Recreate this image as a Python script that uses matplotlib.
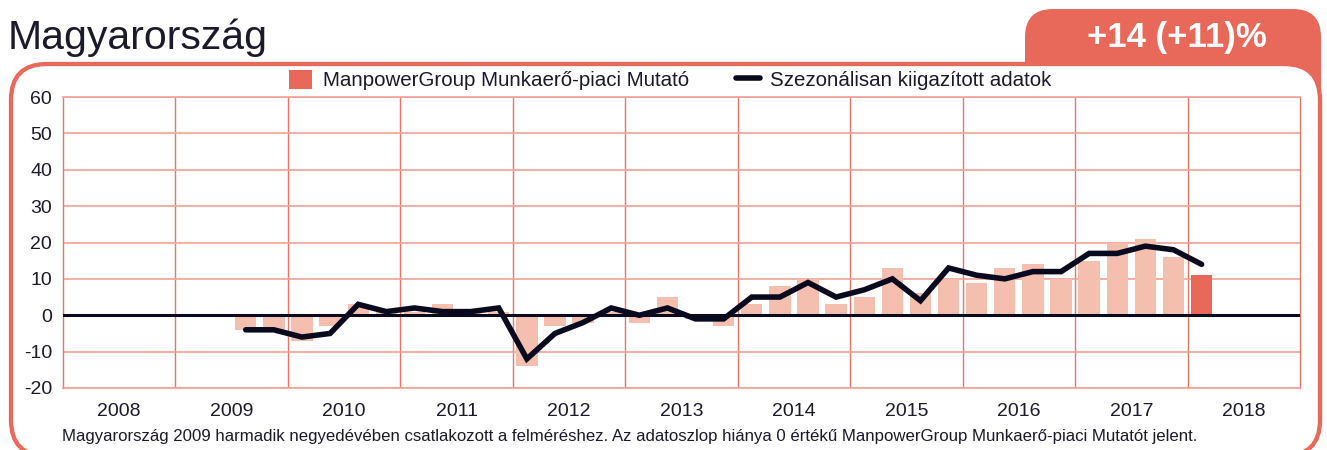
import matplotlib
matplotlib.use("Agg")
import matplotlib.pyplot as plt
from matplotlib.patches import FancyBboxPatch, Patch
from matplotlib.lines import Line2D
from matplotlib.transforms import Affine2D

plt.rcParams['font.family'] = ['Liberation Sans', 'DejaVu Sans']

# adatok: negyedévek 2009 Q3-tól 2018 Q1-ig
quarters = ['2009-3', '2009-4',
            '2010-1', '2010-2', '2010-3', '2010-4',
            '2011-1', '2011-2', '2011-3', '2011-4',
            '2012-1', '2012-2', '2012-3', '2012-4',
            '2013-1', '2013-2', '2013-3', '2013-4',
            '2014-1', '2014-2', '2014-3', '2014-4',
            '2015-1', '2015-2', '2015-3', '2015-4',
            '2016-1', '2016-2', '2016-3', '2016-4',
            '2017-1', '2017-2', '2017-3', '2017-4',
            '2018-1']
mutato = [-4, -4,
          -7, -3, 3, 1,
          1, 3, 1, 1,
          -14, -3, -2, 1,
          -2, 5, -1, -3,
          3, 8, 10, 3,
          5, 13, 6, 10,
          9, 13, 14, 10,
          15, 20, 21, 16,
          11]
kiigazitott = [-4, -4,
               -6, -5, 3, 1,
               2, 1, 1, 2,
               -12, -5, -2, 2,
               0, 2, -1, -1,
               5, 5, 9, 5,
               7, 10, 4, 13,
               11, 10, 12, 12,
               17, 17, 19, 18,
               14]
years = [2008, 2009, 2010, 2011, 2012, 2013, 2014, 2015, 2016, 2017, 2018]
y_ticks = [-20, -10, 0, 10, 20, 30, 40, 50, 60]

title = "Magyarország"
badge = "+14 (+11)%"
label_bar = "ManpowerGroup Munkaerő-piaci Mutató"
label_line = "Szezonálisan kiigazított adatok"
footnote = ("Magyarország 2009 harmadik negyedévében csatlakozott a felméréshez. "
            "Az adatoszlop hiánya 0 értékű ManpowerGroup Munkaerő-piaci Mutatót jelent.")

ORANGE = '#E8695A'
LIGHT = '#F5BFB0'
DARK = '#0A0A1E'
TEXT = '#1A1A2A'
VGRID = '#EC7466'
HGRID = '#F2A196'

W, H = 1327, 450
fig = plt.figure(figsize=(W / 100, H / 100), dpi=100)
# pixel koordináták (bal felső sarok az origó)
px = Affine2D().scale(1 / 100, -1 / 100).translate(0, H / 100) + fig.dpi_scale_trans

# narancs fül jobb felül
tab = FancyBboxPatch((1025, 9), 296, 120, boxstyle="round,pad=0,rounding_size=28",
                     transform=px, facecolor=ORANGE, edgecolor='none', zorder=-3)
fig.add_artist(tab)
# keret
frame = FancyBboxPatch((11, 64), 1309, 392, boxstyle="round,pad=0,rounding_size=36",
                       transform=px, facecolor='white', edgecolor=ORANGE, linewidth=3.1, zorder=-2)
fig.add_artist(frame)

fig.text(8, 49, title, transform=px, fontsize=29.5, color=TEXT, va='baseline', ha='left')
fig.text(1177, 47, badge, transform=px, fontsize=25, color='white', fontweight='bold',
         va='baseline', ha='center')

# tengely: x 63..1300, y 97..388 pixel
ax = fig.add_axes([63 / W, 1 - 388 / H, (1300 - 63) / W, (388 - 97) / H])
ax.patch.set_visible(False)

xs = []
for q in quarters:
    y, n = q.split('-')
    xs.append(int(y) + (int(n) - 0.5) / 4)

colors = [LIGHT] * (len(xs) - 1) + [ORANGE]
ax.bar(xs, mutato, width=0.19, color=colors, zorder=2)
ax.axhline(0, color=DARK, linewidth=2.2, zorder=3)
ax.plot(xs, kiigazitott, color=DARK, linewidth=4.0, solid_capstyle='round',
        solid_joinstyle='miter', zorder=4)

ax.set_xlim(2008, 2019)
ax.set_ylim(-20, 60)
ax.set_yticks(y_ticks)
ax.set_yticklabels([str(v) for v in y_ticks])
ax.set_xticks([y + 0.5 for y in years])
ax.set_xticklabels([str(y) for y in years])
ax.set_xticks(list(range(2009, 2019)), minor=True)
ax.tick_params(axis='both', which='both', length=0, labelsize=14, colors=TEXT)
ax.tick_params(axis='y', pad=8)
ax.tick_params(axis='x', pad=11)
ax.grid(True, axis='y', color=HGRID, linewidth=1.2, zorder=0)
ax.grid(True, axis='x', which='minor', color=VGRID, linewidth=1.0, zorder=0)
for side in ['left', 'right']:
    ax.spines[side].set_color(VGRID)
    ax.spines[side].set_linewidth(1.0)
for side in ['top', 'bottom']:
    ax.spines[side].set_color(HGRID)
    ax.spines[side].set_linewidth(1.2)

handles = [Patch(facecolor=ORANGE, edgecolor='none'),
           Line2D([0], [0], color=DARK, linewidth=4.0, solid_capstyle='round')]
leg = fig.legend(handles, [label_bar, label_line], loc='center', ncol=2,
                 bbox_to_anchor=(670 / W, 1 - 80 / H), frameon=False, fontsize=14.8,
                 handlelength=1.15, handleheight=1.1, handletextpad=0.5,
                 columnspacing=2.3, borderpad=0)
for t in leg.get_texts():
    t.set_color(TEXT)

fig.text(62, 437, footnote, transform=px, fontsize=12.1, color=TEXT, va='center', ha='left')

fig.savefig("out.png", dpi=100)
